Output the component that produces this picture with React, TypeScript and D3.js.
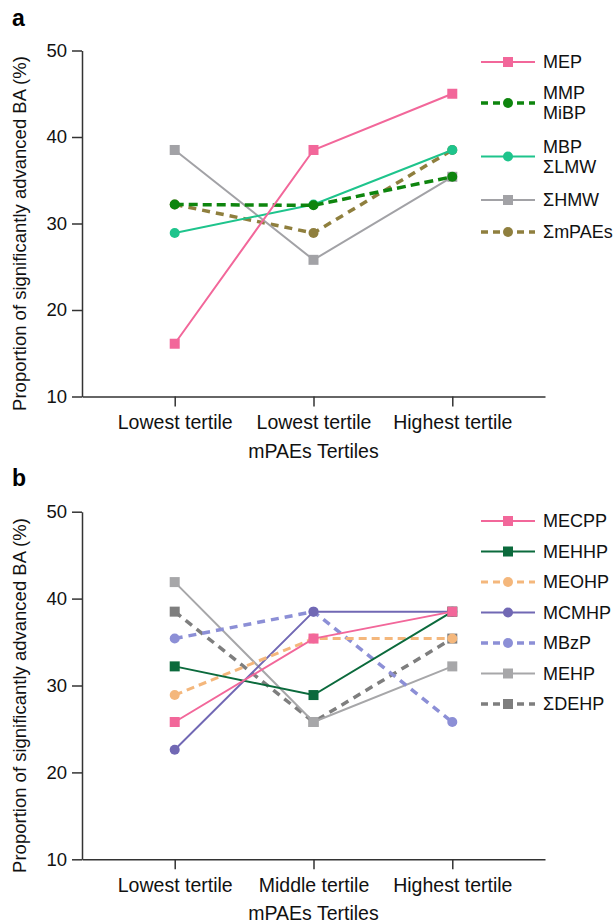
import React, { useEffect, useRef } from 'react';
import * as d3 from 'd3';

// tertile labels (panel a repeats "Lowest tertile" as in the original figure)
const tertilesA = ['Lowest tertile', 'Lowest tertile', 'Highest tertile'];
const tertilesB = ['Lowest tertile', 'Middle tertile', 'Highest tertile'];
const yTicks = [10, 20, 30, 40, 50];

// panel a values (%)
const mepA = [16.1, 38.5, 45.0];
const mmpMibpA = [32.2, 32.1, 35.4];
const mbpLmwA = [28.9, 32.2, 38.5];
const hmwA = [38.5, 25.8, 35.4];
const mpaesA = [32.2, 28.9, 38.5];

// panel b values (%)
const mecppB = [25.8, 35.4, 38.5];
const mehhpB = [32.2, 28.9, 38.5];
const meohpB = [28.9, 35.4, 35.4];
const mcmhpB = [22.6, 38.5, 38.5];
const mbzpB = [35.4, 38.5, 25.8];
const mehpB = [41.9, 25.8, 32.2];
const dehpB = [38.5, 25.8, 35.4];

type Series = {
    label: string[];
    values: number[];
    color: string;
    marker: 'square' | 'circle';
    dash?: string;
    width: number;
};

const seriesA: Series[] = [
    { label: ['MEP'], values: mepA, color: '#f2679a', marker: 'square', width: 2 },
    { label: ['MMP', 'MiBP'], values: mmpMibpA, color: '#0e850e', marker: 'circle', dash: '9,5', width: 3.5 },
    { label: ['MBP', 'ΣLMW'], values: mbpLmwA, color: '#1ec48c', marker: 'circle', width: 2 },
    { label: ['ΣHMW'], values: hmwA, color: '#a2a2a6', marker: 'square', width: 2 },
    { label: ['ΣmPAEs'], values: mpaesA, color: '#8f7f3e', marker: 'circle', dash: '8,6', width: 3.5 },
];

const seriesB: Series[] = [
    { label: ['MECPP'], values: mecppB, color: '#f2679a', marker: 'square', width: 2 },
    { label: ['MEHHP'], values: mehhpB, color: '#0b6a3c', marker: 'square', width: 2 },
    { label: ['MEOHP'], values: meohpB, color: '#f4b77c', marker: 'circle', dash: '8,5', width: 3 },
    { label: ['MCMHP'], values: mcmhpB, color: '#7168b4', marker: 'circle', width: 2 },
    { label: ['MBzP'], values: mbzpB, color: '#8c8fd6', marker: 'circle', dash: '8,6', width: 3.5 },
    { label: ['MEHP'], values: mehpB, color: '#a7a7a9', marker: 'square', width: 2 },
    { label: ['ΣDEHP'], values: dehpB, color: '#7e7e7e', marker: 'square', dash: '8,6', width: 3.5 },
];

const FONT = '"Liberation Sans", Arial, Helvetica, sans-serif';
const AXIS = '#333';

function drawPanel(
    root: d3.Selection<SVGSVGElement, unknown, null, undefined>,
    opts: {
        letter: string;
        letterY: number;
        top: number;
        bottom: number;
        tertiles: string[];
        series: Series[];
        legendY: number[];
    }
) {
    const left = 82;
    const right = 545;

    const x = d3.scalePoint<number>()
        .domain([0, 1, 2])
        .range([left, right])
        .padding(0.668);

    const y = d3.scaleLinear()
        .domain([10, 50])
        .range([opts.bottom, opts.top]);

    const g = root.append('g');

    g.append('text')
        .attr('x', 12)
        .attr('y', opts.letterY)
        .attr('font-family', FONT)
        .attr('font-weight', 'bold')
        .attr('font-size', 23)
        .text(opts.letter);

    // y axis
    const yAxis = d3.axisLeft(y)
        .tickValues(yTicks)
        .tickSize(10)
        .tickSizeOuter(0)
        .tickPadding(5);

    const yg = g.append('g')
        .attr('transform', `translate(${left},0)`)
        .call(yAxis);
    yg.select('.domain').attr('stroke', AXIS).attr('stroke-width', 1.5);
    yg.selectAll('.tick line').attr('stroke', AXIS).attr('stroke-width', 1.5);
    yg.selectAll('.tick text')
        .attr('font-family', FONT)
        .attr('font-size', 18.5)
        .attr('fill', '#111');

    // x axis
    const xAxis = d3.axisBottom(x)
        .tickSize(10)
        .tickSizeOuter(0)
        .tickPadding(9)
        .tickFormat(i => opts.tertiles[i as number]);

    const xg = g.append('g')
        .attr('transform', `translate(0,${opts.bottom})`)
        .call(xAxis);
    xg.select('.domain').attr('stroke', AXIS).attr('stroke-width', 1.5);
    xg.selectAll('.tick line').attr('stroke', AXIS).attr('stroke-width', 1.5);
    xg.selectAll('.tick text')
        .attr('font-family', FONT)
        .attr('font-size', 19.5)
        .attr('fill', '#111');

    g.append('text')
        .attr('x', (left + right) / 2)
        .attr('y', opts.bottom + 61)
        .attr('text-anchor', 'middle')
        .attr('font-family', FONT)
        .attr('font-size', 19.5)
        .attr('fill', '#111')
        .text('mPAEs Tertiles');

    g.append('text')
        .attr('transform', `translate(26,${(opts.top + opts.bottom) / 2 + 10}) rotate(-90)`)
        .attr('text-anchor', 'middle')
        .attr('font-family', FONT)
        .attr('font-size', 18.5)
        .attr('fill', '#111')
        .text('Proportion of significantly advanced BA (%)');

    const line = d3.line<number>()
        .x((_, i) => x(i) as number)
        .y(d => y(d));

    const drawMarker = (sel: d3.Selection<SVGGElement, unknown, null, undefined>, s: Series, cx: number, cy: number) => {
        if (s.marker === 'square') {
            sel.append('rect')
                .attr('x', cx - 5)
                .attr('y', cy - 5)
                .attr('width', 10)
                .attr('height', 10)
                .attr('fill', s.color);
        } else {
            sel.append('circle')
                .attr('cx', cx)
                .attr('cy', cy)
                .attr('r', 5)
                .attr('fill', s.color);
        }
    };

    // draw last series first so the first legend entry sits on top
    [...opts.series].reverse().forEach(s => {
        const sg = g.append('g');
        sg.append('path')
            .datum(s.values)
            .attr('d', line)
            .attr('fill', 'none')
            .attr('stroke', s.color)
            .attr('stroke-width', s.width)
            .attr('stroke-dasharray', s.dash || null);
        s.values.forEach((v, i) => drawMarker(sg, s, x(i) as number, y(v)));
    });

    // legend
    opts.series.forEach((s, k) => {
        const ly = opts.legendY[k];
        const lg = g.append('g');
        lg.append('line')
            .attr('x1', 481)
            .attr('x2', 535)
            .attr('y1', ly)
            .attr('y2', ly)
            .attr('stroke', s.color)
            .attr('stroke-width', s.width)
            .attr('stroke-dasharray', s.dash ? '7,5' : null);
        drawMarker(lg, s, 508, ly);
        const n = s.label.length;
        s.label.forEach((t, j) => {
            lg.append('text')
                .attr('x', 543)
                .attr('y', ly + (j - (n - 1) / 2) * 20)
                .attr('dy', '0.35em')
                .attr('font-family', FONT)
                .attr('font-size', 18)
                .attr('fill', '#111')
                .text(t);
        });
    });
}

const App = () => {
    const svgRef = useRef<SVGSVGElement>(null);

    useEffect(() => {
        const svg = d3.select(svgRef.current as SVGSVGElement);
        svg.selectAll('*').remove();

        drawPanel(svg, {
            letter: 'a',
            letterY: 26,
            top: 50.5,
            bottom: 396.5,
            tertiles: tertilesA,
            series: seriesA,
            legendY: [62, 103, 156.5, 200, 232],
        });

        drawPanel(svg, {
            letter: 'b',
            letterY: 486,
            top: 511.7,
            bottom: 859.3,
            tertiles: tertilesB,
            series: seriesB,
            legendY: [521, 551.5, 582, 612.5, 643, 673.5, 704],
        });
    }, []);

    return (
        <div style={{ position: 'absolute', left: 0, top: 0, background: '#fff' }}>
            <svg ref={svgRef} width={613} height={923} style={{ display: 'block' }}></svg>
        </div>
    );
};

export default App;
